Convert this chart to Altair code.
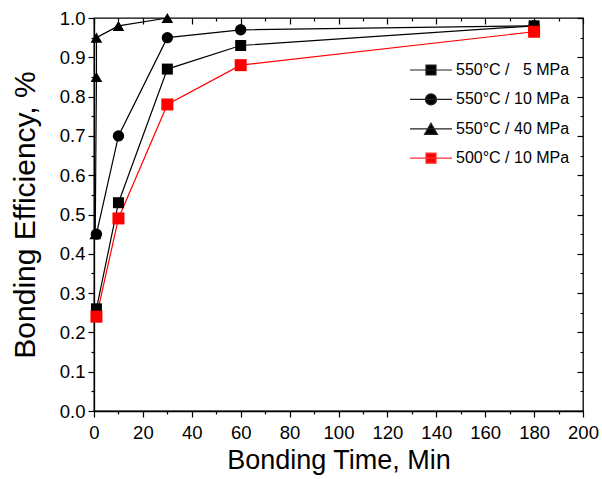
import altair as alt
import pandas as pd

series_names = ["550°C /\u00a0\u00a0\u00a05 MPa", "550°C / 10 MPa", "550°C / 40 MPa", "500°C / 10 MPa"]

times_550_5 = [1, 10, 30, 60, 180]
eff_550_5 = [0.26, 0.53, 0.87, 0.93, 0.98]

times_550_10 = [1, 10, 30, 60, 180]
eff_550_10 = [0.45, 0.70, 0.95, 0.97, 0.98]

times_550_40 = [0.5, 1, 1, 10, 30]
eff_550_40 = [0.45, 0.85, 0.95, 0.98, 1.0]

times_500_10 = [1, 10, 30, 60, 180]
eff_500_10 = [0.24, 0.49, 0.78, 0.88, 0.965]

series_colors = ["black", "black", "black", "red"]
legend_line_colors = ["#222222", "#222222", "#222222", "#ff3333"]
marker_shapes = ["square", "circle", "triangle-up", "square"]
marker_sizes = [121, 144, 180, 121]
legend_paths = [
    "M-2.1,0H2.1M-0.5,-0.5H0.5V0.5H-0.5Z",
    "M-2.1,0H2.1M-0.55,0A0.55,0.55 0 1,0 0.55,0A0.55,0.55 0 1,0 -0.55,0Z",
    "M-2.1,0H2.1M0,-0.56L0.65,0.56L-0.65,0.56Z",
    "M-2.1,0H2.1M-0.5,-0.5H0.5V0.5H-0.5Z",
]

x_ticks = list(range(0, 201, 10))
y_ticks = [round(i * 0.05, 2) for i in range(21)]

rows = []
for name, ts, es in zip(
    series_names,
    [times_550_5, times_550_10, times_550_40, times_500_10],
    [eff_550_5, eff_550_10, eff_550_40, eff_500_10],
):
    for i, (t, e) in enumerate(zip(ts, es)):
        rows.append({"series": name, "time": t, "eff": e, "idx": i})
df = pd.DataFrame(rows)

FONT = "Liberation Sans"
x_minor = "datum.value % 20 !== 0"
y_minor = "round(datum.value * 100) % 10 !== 0"

x_scale = alt.Scale(domain=[0, 200], nice=False, zero=False)
y_scale = alt.Scale(domain=[0, 1], nice=False, zero=False)

x_axis = alt.Axis(
    orient="bottom", values=x_ticks, title="Bonding Time, Min",
    labelExpr=f"{x_minor} ? '' : datum.label", format="d",
    labelFontSize=18.5, titleFontSize=27, labelPadding=6, titlePadding=6,
    grid=False, labelFlush=False, labelOverlap=False,
    tickSize={"condition": {"test": x_minor, "value": 3}, "value": 6},
)
y_axis = alt.Axis(
    orient="left", values=y_ticks, title="Bonding Efficiency, %",
    labelExpr=f"{y_minor} ? '' : format(datum.value, '.1f')",
    labelFontSize=18.5, titleFontSize=30, labelPadding=3, titlePadding=19,
    grid=False, labelFlush=False, labelOverlap=False,
    tickSize={"condition": {"test": y_minor, "value": 3}, "value": 6},
)
x_axis_top = alt.Axis(
    orient="top", values=x_ticks, labels=False, title=None, grid=False, domain=False,
    offset=-6, tickSize=6,
    tickDash={"condition": {"test": x_minor, "value": [0, 3, 3, 3]}, "value": [6, 0]},
)
y_axis_right = alt.Axis(
    orient="right", values=y_ticks, labels=False, title=None, grid=False, domain=False,
    offset=-6, tickSize=6,
    tickDash={"condition": {"test": y_minor, "value": [0, 3, 3, 3]}, "value": [6, 0]},
)

color = alt.Color("series:N", scale=alt.Scale(domain=series_names, range=series_colors), legend=None)

base = alt.Chart(df)

lines = base.mark_line(strokeWidth=1.2).encode(
    x=alt.X("time:Q", scale=x_scale, axis=x_axis),
    y=alt.Y("eff:Q", scale=y_scale, axis=y_axis),
    color=color,
    order="idx:Q",
)

points = base.mark_point(filled=True, opacity=1).encode(
    x=alt.X("time:Q", scale=x_scale, axis=x_axis),
    y=alt.Y("eff:Q", scale=y_scale, axis=y_axis),
    color=color,
    shape=alt.Shape("series:N", scale=alt.Scale(domain=series_names, range=marker_shapes), legend=None),
    size=alt.Size("series:N", scale=alt.Scale(domain=series_names, range=marker_sizes), legend=None),
)

leg = alt.Legend(
    title=None, orient="none", legendX=326, legendY=41,
    symbolSize=400, labelOffset=14, rowPadding=10.4, padding=0,
    labelFontSize=16, labelFont=FONT, labelColor="black", labelLimit=0,
    symbolOpacity=1, symbolStrokeWidth=1.2,
)
overlay = base.mark_point(opacity=0, strokeWidth=1.2).encode(
    x=alt.X("time:Q", scale=x_scale, axis=x_axis_top),
    y=alt.Y("eff:Q", scale=y_scale, axis=y_axis_right),
    fill=alt.Fill("series:N", scale=alt.Scale(domain=series_names, range=series_colors), legend=leg),
    stroke=alt.Stroke("series:N", scale=alt.Scale(domain=series_names, range=legend_line_colors), legend=leg),
    shape=alt.Shape("series:N", scale=alt.Scale(domain=series_names, range=legend_paths), legend=leg),
)

inner = alt.layer(lines, points)
chart = alt.layer(inner, overlay).resolve_scale(
    x="independent", y="independent", shape="independent",
    fill="independent", stroke="independent",
).properties(
    width=489, height=393,
    autosize=alt.AutoSizeParams(type="none"),
    padding={"left": 94, "top": 18, "right": 19, "bottom": 68},
    background="white",
).configure_view(stroke="black", strokeWidth=1.3).configure_axis(
    domainColor="black", domainWidth=1.3, tickColor="black", tickWidth=1.2,
    labelColor="black", titleColor="black", labelFont=FONT, titleFont=FONT,
    titleFontWeight="normal",
)

chart.save("out.html", embed_options={"renderer": "svg", "actions": False})
